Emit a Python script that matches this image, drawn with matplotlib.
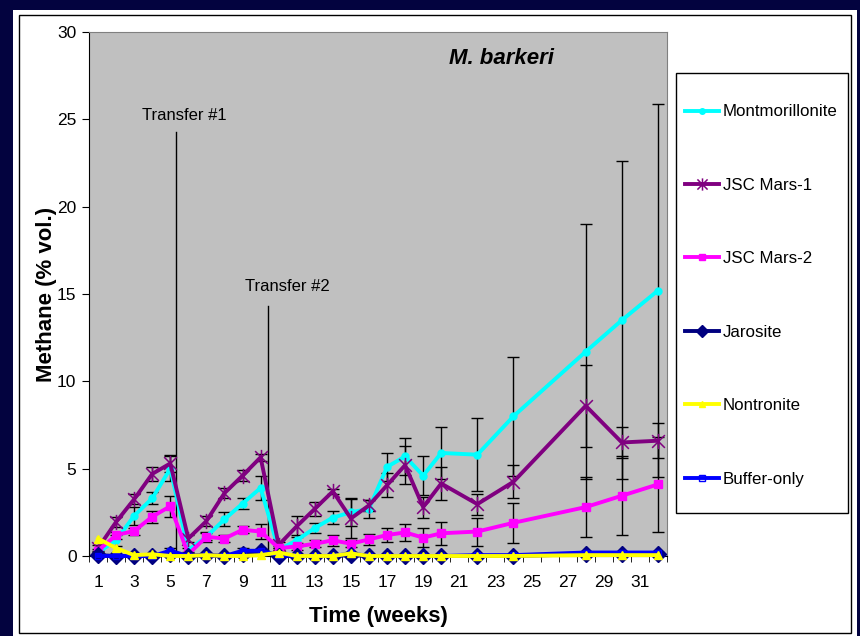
import matplotlib
matplotlib.use("Agg")
from matplotlib import pyplot as plt
from matplotlib.patches import Rectangle
from matplotlib.path import Path

plt.rcParams['font.family'] = ['Liberation Sans', 'DejaVu Sans']

# data
weeks = [1, 2, 3, 4, 5, 6, 7, 8, 9, 10, 11, 12, 13, 14, 15, 16, 17, 18, 19, 20, 22, 24, 28, 30, 32]

mont = [0.2, 0.9, 2.3, 3.3, 5.0, 0.35, 1.1, 2.1, 3.0, 3.9, 0.35, 0.9, 1.6, 2.2, 2.5, 2.7,
        5.1, 5.7, 4.6, 5.9, 5.8, 8.0, 11.7, 13.5, 15.2]
mont_err = [0.1, 0.3, 0.5, 0.35, 0.7, 0.1, 0.3, 0.4, 0.3, 0.7, 0.1, 0.3, 0.3, 0.35, 0.8, 0.5,
            0.8, 1.05, 1.1, 1.5, 2.1, 3.4, 7.3, 9.1, 10.7]

jsc1 = [0.45, 1.95, 3.25, 4.7, 5.3, 1.0, 2.0, 3.6, 4.6, 5.65, 0.63, 1.7, 2.7, 3.7, 2.15, 2.9,
        4.05, 5.2, 2.8, 4.15, 2.97, 4.25, 8.6, 6.5, 6.6]
jsc1_err = [0.2, 0.3, 0.3, 0.4, 0.5, 0.2, 0.3, 0.3, 0.3, 0.2, 0.15, 0.6, 0.4, 0.15, 1.1, 0.3,
            0.7, 1.1, 0.6, 0.95, 0.6, 0.95, 2.35, 0.9, 1.0]

jsc2 = [0.3, 1.2, 1.43, 2.25, 2.85, 0.1, 1.1, 1.0, 1.5, 1.4, 0.45, 0.55, 0.7, 0.9, 0.7, 0.95,
        1.2, 1.35, 1.05, 1.3, 1.4, 1.9, 2.8, 3.45, 4.1]
jsc2_err = [0.1, 0.2, 0.2, 0.35, 0.6, 0.1, 0.2, 0.2, 0.2, 0.45, 0.1, 0.2, 0.2, 0.3, 0.2, 0.3,
            0.4, 0.5, 0.55, 0.65, 0.8, 1.15, 1.7, 2.25, 2.7]

jarosite = [0.05, 0.0, 0.0, 0.0, 0.1, 0.0, 0.05, 0.0, 0.1, 0.3, 0.0, 0.0, 0.0, 0.0, 0.05, 0.0,
            0.0, 0.0, 0.0, 0.0, 0.0, 0.0, 0.1, 0.1, 0.1]

nontronite = [1.0, 0.45, 0.05, 0.1, 0.0, 0.0, 0.05, 0.0, 0.0, 0.05, 0.2, 0.0, 0.0, 0.0, 0.15, 0.0,
              0.0, 0.0, 0.0, 0.0, 0.0, 0.0, 0.05, 0.05, 0.05]

buffer = [0.0, 0.0, 0.0, 0.0, 0.3, 0.0, 0.05, 0.0, 0.3, 0.3, 0.05, 0.0, 0.0, 0.0, 0.15, 0.0,
          0.0, 0.0, 0.0, 0.0, 0.05, 0.05, 0.2, 0.2, 0.2]
buffer_err = [0.0, 0.0, 0.0, 0.0, 0.15, 0.0, 0.0, 0.0, 0.15, 0.1, 0.0, 0.0, 0.0, 0.0, 0.1, 0.0,
              0.0, 0.0, 0.0, 0.0, 0.0, 0.0, 0.05, 0.05, 0.05]

transfers = [(5.3, 24.3, "Transfer #1"), (10.4, 14.3, "Transfer #2")]
transfer_text_pos = [(5.8, 25.2), (11.5, 15.45)]
xticks = list(range(1, 32, 2))

W, H = 860, 636
fig = plt.figure(figsize=(W / 100, H / 100), dpi=100, facecolor='#03033f')

def px(x0, y0, x1, y1):
    # pixel box (top-left origin) -> figure fraction
    return (x0 / W, 1 - y1 / H, (x1 - x0) / W, (y1 - y0) / H)

x, y, w, h = px(13, 10, 857, 640)
fig.patches.append(Rectangle((x, y), w, h, transform=fig.transFigure, facecolor='white',
                             edgecolor='none', zorder=-10))
x, y, w, h = px(19, 15, 851, 633)
fig.patches.append(Rectangle((x, y), w, h, transform=fig.transFigure, facecolor='none',
                             edgecolor='black', lw=1, zorder=-9))

ax = fig.add_axes(px(89, 32, 667, 556))
ax.set_facecolor('#c0c0c0')

# excel style star: an X plus a vertical bar
star = Path([(-1, -1), (1, 1), (-1, 1), (1, -1), (0, -1.2), (0, 1.2)],
            [Path.MOVETO, Path.LINETO, Path.MOVETO, Path.LINETO, Path.MOVETO, Path.LINETO])

# error bars first, lines on top
for vals, errs in [(mont, mont_err), (jsc1, jsc1_err), (jsc2, jsc2_err), (buffer, buffer_err)]:
    ax.errorbar(weeks, vals, yerr=errs, fmt='none', ecolor='black', elinewidth=1,
                capsize=4, capthick=1, zorder=2)

ax.plot(weeks, mont, color='#00ffff', lw=2.8, marker='o', ms=5, label='Montmorillonite', zorder=3)
ax.plot(weeks, jsc1, color='#800080', lw=2.8, marker=star, ms=11, mew=1.1,
        label='JSC Mars-1', zorder=3)
ax.plot(weeks, jsc2, color='#ff00ff', lw=2.8, marker='s', ms=5.5, label='JSC Mars-2', zorder=3)
ax.plot(weeks, jarosite, color='#000080', lw=2.8, marker='D', ms=8, label='Jarosite',
        zorder=4, clip_on=False)
ax.plot(weeks, nontronite, color='#ffff00', lw=2.8, marker='^', ms=6, mec='#ffff00',
        label='Nontronite', zorder=5, clip_on=False)
ax.plot(weeks, buffer, color='#0000ff', lw=2.8, marker='s', ms=5, mfc='none', mec='#0000ff',
        label='Buffer-only', zorder=4, clip_on=False)

for tx, ytop, label in transfers:
    ax.plot([tx, tx], [0.3, ytop], color='black', lw=1, zorder=1.5)
for (tx, ytop, label), (lx, ly) in zip(transfers, transfer_text_pos):
    ax.text(lx, ly, label, ha='center', va='center', fontsize=12)

ax.text(0.713, 0.95, 'M. barkeri', transform=ax.transAxes, ha='center', va='center',
        fontsize=16, fontweight='bold', fontstyle='italic')

ax.set_xlim(0.5, 32.5)
ax.set_ylim(0, 30)
ax.set_yticks(range(0, 31, 5))
ax.set_xticks(xticks)
ax.set_xticks([k + 0.5 for k in range(0, 33)], minor=True)
ax.tick_params(axis='x', which='major', length=0, pad=14, labelsize=12.5)
ax.tick_params(axis='x', which='minor', length=4, direction='out')
ax.tick_params(axis='y', length=5, direction='out', labelsize=12.5, pad=4)

for s in ['left', 'bottom']:
    ax.spines[s].set_color('black')
for s in ['top', 'right']:
    ax.spines[s].set_color('#808080')

ax.set_xlabel('Time (weeks)', fontsize=16, fontweight='bold', labelpad=11)
ax.set_ylabel('Methane (% vol.)', fontsize=16, fontweight='bold', labelpad=0)

# legend box
x, y, w, h = px(676, 73, 848, 513)
fig.patches.append(Rectangle((x, y), w, h, transform=fig.transFigure, facecolor='white',
                             edgecolor='black', lw=1, zorder=1))
leg = fig.legend(loc='upper left', bbox_to_anchor=(677 / W, 1 - 96 / H), frameon=False,
                 fontsize=12.2, labelspacing=3.45, handlelength=2.0, handletextpad=0.2,
                 borderpad=0, markerscale=0.8)

fig.savefig('out.png', dpi=100, facecolor=fig.get_facecolor())
